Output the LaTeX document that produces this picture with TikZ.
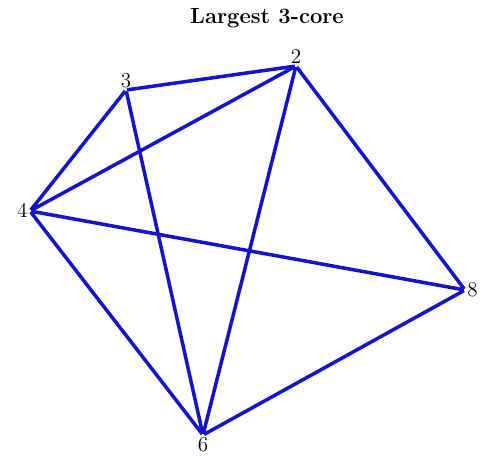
\documentclass[tikz,border=0pt]{standalone}
\usepackage{tikz}
\usetikzlibrary{positioning}
\definecolor{edgeblue}{RGB}{20,20,205}

\begin{document}
\begin{tikzpicture}[x=0.02cm,y=-0.02cm,
        vert/.style={circle,inner sep=0pt,minimum size=1pt},
        lbl/.style={font=\fontsize{12.5}{14}\selectfont,inner sep=0.5pt}]
        \useasboundingbox (0,0) rectangle (486,458);
        \node[font=\fontsize{12.5}{15}\selectfont\bfseries] (title) at (267,18) {Largest 3-core};

        \node[vert,label={[lbl]above:$3$}] (v3) at (126,90) {};
        \node[vert,label={[lbl]above:$2$}] (v2) at (296,66) {};
        \node[vert,label={[lbl]left:$4$}] (v4) at (30,211) {};
        \node[vert,label={[lbl]right:$8$}] (v8) at (465,290) {};
        \node[vert,label={[lbl]below:$6$}] (v6) at (203,435) {};

        \draw[edgeblue,line width=2pt,line join=round]
            (v3) -- (v2)
            (v3) -- (v4)
            (v3) -- (v6)
            (v2) -- (v4)
            (v2) -- (v8)
            (v2) -- (v6)
            (v4) -- (v8)
            (v4) -- (v6)
            (v6) -- (v8);
    \end{tikzpicture}
\end{document}
